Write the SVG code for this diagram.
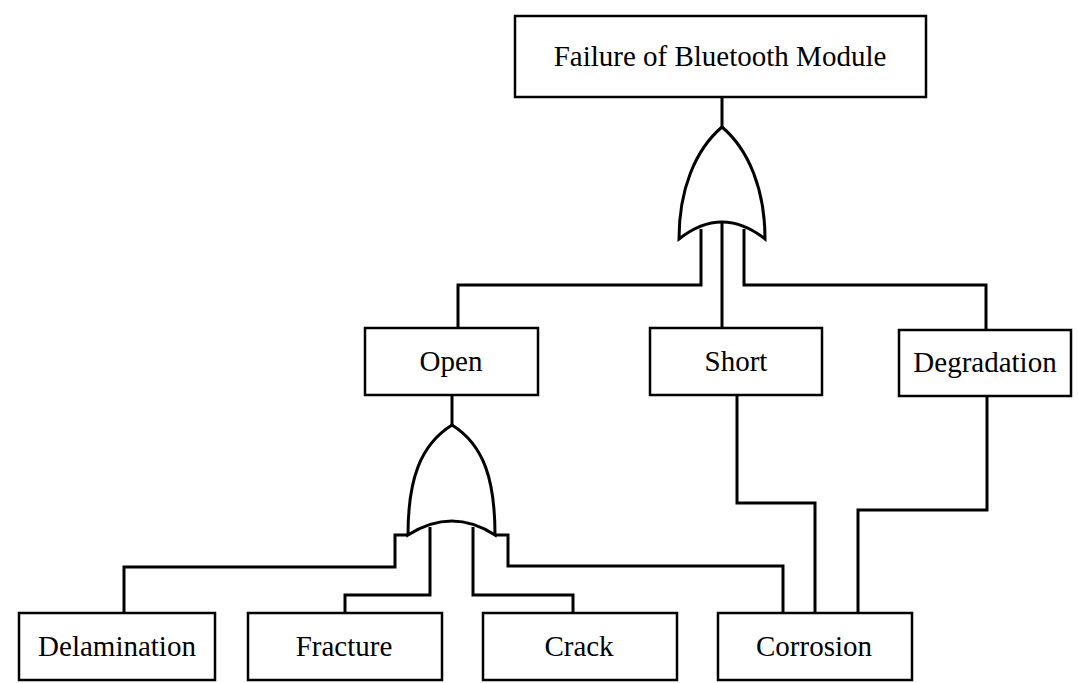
<svg xmlns="http://www.w3.org/2000/svg" width="1078" height="683" viewBox="0 0 1078 683">
<style>
.box{fill:#fff;stroke:#000;stroke-width:2.5}
.lbl{font-family:"Liberation Serif","Times New Roman",serif;font-size:29px;fill:#000;text-anchor:middle}
.wire{fill:none;stroke:#000;stroke-width:3;stroke-linejoin:miter}
.gate{fill:#fff;stroke:#000;stroke-width:3;stroke-linejoin:miter}
</style>
<rect width="1078" height="683" fill="#fff"/>
<g id="connectors">
<path class="wire" d="M722,97 V127"/>
<path class="wire" d="M701,229 V285 H458 V328"/>
<path class="wire" d="M722,222 V328"/>
<path class="wire" d="M744,229 V285 H986 V330"/>
<path class="wire" d="M452,395 V425"/>
<path class="wire" d="M408,535 H395 V567 H124 V613"/>
<path class="wire" d="M430,527 V595 H345 V613"/>
<path class="wire" d="M473,527 V595 H573 V613"/>
<path class="wire" d="M495,535 H508 V566 H783 V613"/>
<path class="wire" d="M737,395 V503 H815 V613"/>
<path class="wire" d="M987,396 V510 H858 V613"/>
</g>
<g id="gate-or-top">
<path class="gate" d="M679,239 C679,190 695,150 722,127 C749,150 765,190 765,239 Q722,205 679,239 Z"/>
</g>
<g id="gate-or-open">
<path class="gate" d="M408,535 C408,480 420,445 452,425 C484,445 495,480 495,535 Q452,507 408,535 Z"/>
</g>
<g id="node-top">
<rect class="box" x="515" y="16" width="411" height="81"/>
<text class="lbl" x="720" y="66">Failure of Bluetooth Module</text>
</g>
<g id="node-open">
<rect class="box" x="365" y="328" width="173" height="67"/>
<text class="lbl" x="451" y="371">Open</text>
</g>
<g id="node-short">
<rect class="box" x="650" y="328" width="172" height="67"/>
<text class="lbl" x="736" y="371">Short</text>
</g>
<g id="node-degradation">
<rect class="box" x="899" y="330" width="172" height="66"/>
<text class="lbl" x="985" y="372">Degradation</text>
</g>
<g id="node-delamination">
<rect class="box" x="19" y="613" width="196" height="67"/>
<text class="lbl" x="117" y="656">Delamination</text>
</g>
<g id="node-fracture">
<rect class="box" x="248" y="613" width="194" height="67"/>
<text class="lbl" x="344" y="656">Fracture</text>
</g>
<g id="node-crack">
<rect class="box" x="483" y="613" width="194" height="67"/>
<text class="lbl" x="579" y="656">Crack</text>
</g>
<g id="node-corrosion">
<rect class="box" x="718" y="613" width="194" height="67"/>
<text class="lbl" x="814" y="656">Corrosion</text>
</g>
</svg>
